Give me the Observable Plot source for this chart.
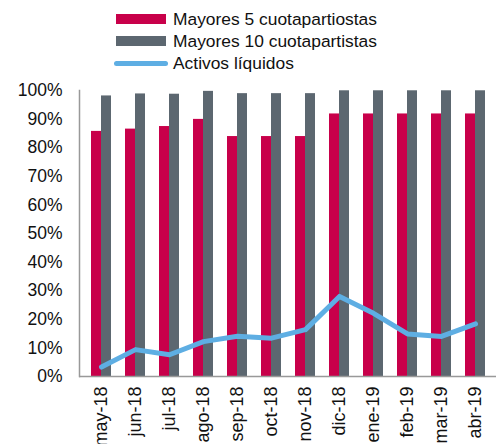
<!DOCTYPE html>
<html><head><meta charset="utf-8">
<script src="https://cdn.jsdelivr.net/npm/d3@7"></script>
<script src="https://cdn.jsdelivr.net/npm/@observablehq/plot@0.6"></script>
<style>
body{margin:0;background:#fff;font-family:"Liberation Sans",Arial,sans-serif;}
#legend{position:relative;width:500px;height:80px;font-size:17.4px;color:#111;}
.row{position:absolute;left:114px;height:22px;display:flex;align-items:center;}
.sw{width:50px;height:10px;margin-right:7px;}
.ln{width:54px;height:5px;border-radius:3px;margin-right:5px;}
#chart svg g[aria-label="x-axis tick label"] text{font-size:18px;}
</style></head><body>
<div id="legend"></div>
<div id="chart"></div>
<script>
const months = ["may-18","jun-18","jul-18","ago-18","sep-18","oct-18","nov-18","dic-18","ene-19","feb-19","mar-19","abr-19"];
const mayores5 = [0.857,0.865,0.874,0.899,0.839,0.839,0.839,0.918,0.918,0.918,0.918,0.918];
const mayores10 = [0.981,0.988,0.987,0.997,0.989,0.989,0.989,0.999,0.999,0.999,0.999,0.999];
const activos = [0.033,0.094,0.076,0.122,0.141,0.134,0.164,0.280,0.221,0.149,0.140,0.184];
const seriesNames = ["Mayores 5 cuotapartiostas","Mayores 10 cuotapartistas","Activos líquidos"];
const colors = ["#c8004a","#5c6770","#5eaee3"];
const yTicks = d3.range(0, 1.0001, 0.1);

const data = months.map((m,i)=>({month:m, v5:mayores5[i], v10:mayores10[i], act:activos[i]}));

const leg = document.getElementById("legend");
seriesNames.forEach((n,i)=>{
  const r = document.createElement("div");
  r.className="row"; r.style.top = (8 + i*22) + "px";
  const s = document.createElement("div");
  s.className = i<2 ? "sw" : "ln";
  s.style.background = colors[i];
  if(i<2) s.style.marginLeft="2px";
  r.appendChild(s);
  const t = document.createElement("span"); t.textContent = n; r.appendChild(t);
  leg.appendChild(r);
});

const chart = Plot.plot({
  width: 500, height: 364,
  marginTop: 10, marginBottom: 68, marginLeft: 79, marginRight: 4,
  style: {fontFamily: '"Liberation Sans", Arial, sans-serif', fontSize: "17.5px", color: "#111"},
  x: {domain: months, paddingInner: 0.42, paddingOuter: 0.23, label: null, tickSize: 0, tickPadding: 10, tickRotate: -90},
  y: {domain: [0, 1], ticks: yTicks, tickFormat: d3.format(".0%"), label: null, tickSize: 0, tickPadding: 17},
  marks: [
    Plot.barY(data, {x: "month", y: "v5", fill: colors[0], insetRight: 10}),
    Plot.barY(data, {x: "month", y: "v10", fill: colors[1], insetLeft: 10}),
    Plot.ruleY([0], {stroke: "#999", strokeWidth: 1.5}),
    Plot.frame({anchor: "left", stroke: "#999", strokeWidth: 1.5}),
    Plot.lineY(data, {x: "month", y: "act", stroke: colors[2], strokeWidth: 5, strokeLinejoin: "round", strokeLinecap: "round"})
  ]
});
document.getElementById("chart").appendChild(chart);
</script>
</body></html>
